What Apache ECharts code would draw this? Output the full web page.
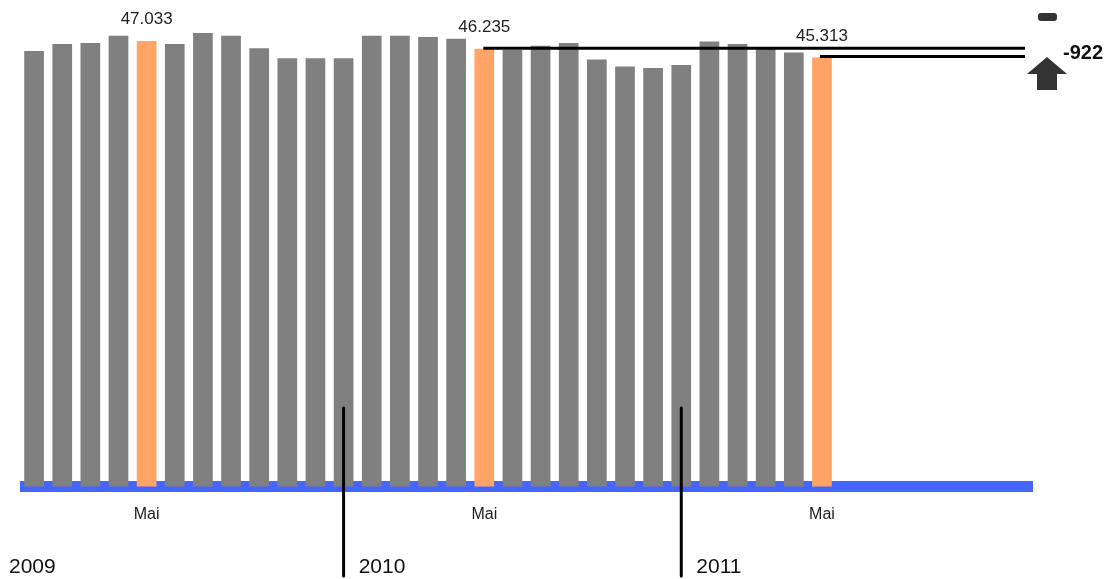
<!DOCTYPE html>
<html>
<head>
<meta charset="utf-8">
<script src="https://cdn.jsdelivr.net/npm/echarts@6/dist/echarts.min.js"></script>
<style>
html,body{margin:0;padding:0;background:#fff;}
#chart{width:1120px;height:579px;}
</style>
</head>
<body>
<div id="chart"></div>
<script>
// ---- data ----
const years = ['2009', '2010', '2011'];
const months = ['Jan', 'Feb', 'Mär', 'Apr', 'Mai', 'Jun', 'Jul', 'Aug', 'Sep', 'Okt', 'Nov', 'Dez'];
const values2009 = [46000, 46730, 46840, 47610, 47033, 46730, 47890, 47610, 46280, 45230, 45230, 45230];
const values2010 = [47610, 47610, 47470, 47290, 46235, 46100, 46550, 46840, 45080, 44340, 44200, 44520];
const values2011 = [46980, 46730, 46420, 45820, 45313];
const highlightMonth = 'Mai';

// ---- build ----
const categories = [];
years.forEach(y => months.forEach(m => categories.push(m + ' ' + y)));
const allValues = values2009.concat(values2010, values2011);
const FONT = '"Liberation Sans", Arial, sans-serif';

function fmt(v) {
  const s = String(Math.abs(Math.round(v)));
  const parts = [];
  for (let i = s.length; i > 0; i -= 3) parts.unshift(s.slice(Math.max(0, i - 3), i));
  return (v < 0 ? '-' : '') + parts.join('.');
}

const barData = allValues.map((v, i) => {
  const isHl = categories[i].startsWith(highlightMonth + ' ');
  return {
    value: v,
    itemStyle: { color: isHl ? '#FFA466' : '#808080' },
    label: {
      show: isHl, position: 'top', distance: 13,
      formatter: p => fmt(p.value),
      fontFamily: FONT, fontSize: 17, color: '#222'
    }
  };
});

const chart = echarts.init(document.getElementById('chart'), null, { renderer: 'canvas' });
chart.setOption({
  animation: false,
  backgroundColor: '#fff',
  grid: { left: 20, right: 87, top: 13, bottom: 92.5, containLabel: false },
  xAxis: {
    type: 'category',
    data: categories,
    axisLine: { lineStyle: { color: '#4566FC', width: 11, cap: 'butt' } },
    axisTick: { show: false },
    axisLabel: {
      interval: 0,
      margin: 20,
      fontFamily: FONT, fontSize: 16, color: '#222',
      formatter: v => v.startsWith(highlightMonth + ' ') ? highlightMonth : ''
    }
  },
  yAxis: {
    type: 'value', min: 0, max: 50000,
    show: false, splitLine: { show: false }
  },
  series: [{
    type: 'bar',
    data: barData,
    barCategoryGap: '30%'
  }]
});

// ---- annotations computed from axis scales ----
const graphics = [];
const Z = 100;
const band = chart.convertToPixel({ xAxisIndex: 0 }, categories[1]) - chart.convertToPixel({ xAxisIndex: 0 }, categories[0]);
years.forEach((y, yi) => {
  const startX = chart.convertToPixel({ xAxisIndex: 0 }, categories[yi * 12]) - band / 2;
  graphics.push({
    type: 'text', z: Z, left: yi === 0 ? startX - 11 : startX + 1, top: 557,
    style: { text: y, font: '21px ' + FONT, fill: '#111' }
  });
  if (yi < years.length - 1) {
    const dx = chart.convertToPixel({ xAxisIndex: 0 }, categories[yi * 12 + 11]);
    graphics.push({
      type: 'line', z: Z, shape: { x1: dx, y1: 408, x2: dx, y2: 576 },
      style: { stroke: '#000', lineWidth: 3, lineCap: 'round' }
    });
  }
});

const idxA = categories.indexOf(highlightMonth + ' ' + years[1]);
const idxB = categories.indexOf(highlightMonth + ' ' + years[2]);
const vA = allValues[idxA], vB = allValues[idxB];
const pA = chart.convertToPixel({ xAxisIndex: 0, yAxisIndex: 0 }, [idxA, vA]);
const pB = chart.convertToPixel({ xAxisIndex: 0, yAxisIndex: 0 }, [idxB, vB]);
const lineEnd = 1025;
graphics.push({ type: 'line', z: Z, shape: { x1: pA[0] - 1, y1: pA[1] - 0.5, x2: lineEnd, y2: pA[1] - 0.5 }, style: { stroke: '#000', lineWidth: 3 } });
graphics.push({ type: 'line', z: Z, shape: { x1: pB[0] - 2, y1: pB[1] - 1, x2: lineEnd, y2: pB[1] - 1 }, style: { stroke: '#000', lineWidth: 3 } });

// arrow and small dash
graphics.push({
  type: 'polygon', z: Z,
  shape: { points: [[1047, 57], [1067, 74], [1057, 74], [1057, 90], [1037, 90], [1037, 74], [1027, 74]] },
  style: { fill: '#333' }
});
graphics.push({
  type: 'rect', z: Z, shape: { x: 1038, y: 13, width: 19, height: 8, r: 3 },
  style: { fill: '#333' }
});
graphics.push({
  type: 'text', z: Z, left: 1063, top: 43,
  style: { text: fmt(vB - vA), font: 'bold 20px ' + FONT, fill: '#111' }
});

chart.setOption({ graphic: graphics });
</script>
</body>
</html>
